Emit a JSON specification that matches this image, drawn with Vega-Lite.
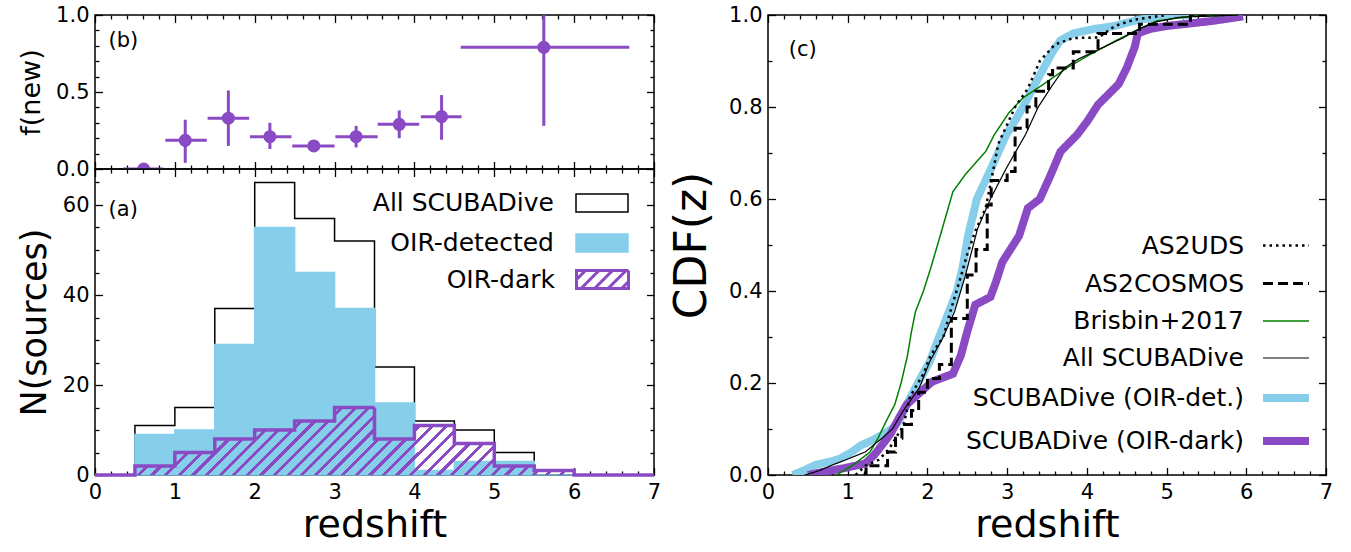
{
  "$schema": "https://vega.github.io/schema/vega-lite/v6.json",
  "background": "white",
  "padding": {"left": 16, "top": 3, "right": 20, "bottom": 2},
  "config": {
    "font": "DejaVu Sans",
    "view": {"stroke": "black", "strokeWidth": 1.5},
    "axis": {"domain": false, "grid": false, "ticks": true, "tickColor": "black", "tickWidth": 1.3, "zindex": 1,
      "labelFont": "DejaVu Sans", "labelFontSize": 21, "labelColor": "black", "labelPadding": 6, "labelFlush": false,
      "titleFont": "DejaVu Sans", "titleFontWeight": "normal", "titleColor": "black"},
    "legend": {"labelFont": "DejaVu Sans", "labelColor": "black", "padding": 0}
  },
  "datasets": {
    "hist": [
      {"sample": "All SCUBADive", "z": 0, "n": 0}, {"sample": "All SCUBADive", "z": 0.5, "n": 11}, {"sample": "All SCUBADive", "z": 1, "n": 15},
      {"sample": "All SCUBADive", "z": 1.5, "n": 37}, {"sample": "All SCUBADive", "z": 2, "n": 65}, {"sample": "All SCUBADive", "z": 2.5, "n": 57},
      {"sample": "All SCUBADive", "z": 3, "n": 52}, {"sample": "All SCUBADive", "z": 3.5, "n": 24}, {"sample": "All SCUBADive", "z": 4, "n": 12},
      {"sample": "All SCUBADive", "z": 4.5, "n": 10}, {"sample": "All SCUBADive", "z": 5, "n": 5}, {"sample": "All SCUBADive", "z": 5.5, "n": 1},
      {"sample": "All SCUBADive", "z": 6, "n": 0}, {"sample": "All SCUBADive", "z": 6.5, "n": 0}, {"sample": "All SCUBADive", "z": 7, "n": 0},
      {"sample": "OIR-detected", "z": 0, "n": 0}, {"sample": "OIR-detected", "z": 0.5, "n": 9}, {"sample": "OIR-detected", "z": 1, "n": 10},
      {"sample": "OIR-detected", "z": 1.5, "n": 29}, {"sample": "OIR-detected", "z": 2, "n": 55}, {"sample": "OIR-detected", "z": 2.5, "n": 45},
      {"sample": "OIR-detected", "z": 3, "n": 37}, {"sample": "OIR-detected", "z": 3.5, "n": 16}, {"sample": "OIR-detected", "z": 4, "n": 1},
      {"sample": "OIR-detected", "z": 4.5, "n": 3}, {"sample": "OIR-detected", "z": 5, "n": 3}, {"sample": "OIR-detected", "z": 5.5, "n": 0},
      {"sample": "OIR-detected", "z": 6, "n": 0}, {"sample": "OIR-detected", "z": 6.5, "n": 0}, {"sample": "OIR-detected", "z": 7, "n": 0},
      {"sample": "OIR-dark", "z": 0, "n": 0}, {"sample": "OIR-dark", "z": 0.5, "n": 2}, {"sample": "OIR-dark", "z": 1, "n": 5},
      {"sample": "OIR-dark", "z": 1.5, "n": 8}, {"sample": "OIR-dark", "z": 2, "n": 10}, {"sample": "OIR-dark", "z": 2.5, "n": 12},
      {"sample": "OIR-dark", "z": 3, "n": 15}, {"sample": "OIR-dark", "z": 3.5, "n": 8}, {"sample": "OIR-dark", "z": 4, "n": 11},
      {"sample": "OIR-dark", "z": 4.5, "n": 7}, {"sample": "OIR-dark", "z": 5, "n": 2}, {"sample": "OIR-dark", "z": 5.5, "n": 1},
      {"sample": "OIR-dark", "z": 6, "n": 0}, {"sample": "OIR-dark", "z": 6.5, "n": 0}, {"sample": "OIR-dark", "z": 7, "n": 0}
    ],
    "fnew": [
      {"z": 0.61, "zlo": 0.35, "zhi": 0.86, "f": 0.0, "flo": 0.0, "fhi": 0.0},
      {"z": 1.13, "zlo": 0.88, "zhi": 1.4, "f": 0.186, "flo": 0.04, "fhi": 0.32},
      {"z": 1.67, "zlo": 1.41, "zhi": 1.93, "f": 0.33, "flo": 0.15, "fhi": 0.51},
      {"z": 2.19, "zlo": 1.94, "zhi": 2.46, "f": 0.21, "flo": 0.13, "fhi": 0.3},
      {"z": 2.74, "zlo": 2.47, "zhi": 3.0, "f": 0.15, "flo": 0.13, "fhi": 0.17},
      {"z": 3.27, "zlo": 3.01, "zhi": 3.54, "f": 0.21, "flo": 0.14, "fhi": 0.28},
      {"z": 3.81, "zlo": 3.54, "zhi": 4.06, "f": 0.29, "flo": 0.2, "fhi": 0.38},
      {"z": 4.34, "zlo": 4.08, "zhi": 4.59, "f": 0.34, "flo": 0.19, "fhi": 0.48},
      {"z": 5.62, "zlo": 4.58, "zhi": 6.69, "f": 0.79, "flo": 0.28, "fhi": 1.0}
    ],
    "cdf": [
      {"sample": "SCUBADive (OIR-det.)", "z": 0.31, "c": 0}, {"sample": "SCUBADive (OIR-det.)", "z": 0.45, "c": 0.01}, {"sample": "SCUBADive (OIR-det.)", "z": 0.6, "c": 0.022},
      {"sample": "SCUBADive (OIR-det.)", "z": 0.8, "c": 0.03}, {"sample": "SCUBADive (OIR-det.)", "z": 0.91, "c": 0.036}, {"sample": "SCUBADive (OIR-det.)", "z": 1.05, "c": 0.05},
      {"sample": "SCUBADive (OIR-det.)", "z": 1.17, "c": 0.065}, {"sample": "SCUBADive (OIR-det.)", "z": 1.3, "c": 0.075}, {"sample": "SCUBADive (OIR-det.)", "z": 1.43, "c": 0.087},
      {"sample": "SCUBADive (OIR-det.)", "z": 1.55, "c": 0.1}, {"sample": "SCUBADive (OIR-det.)", "z": 1.64, "c": 0.116}, {"sample": "SCUBADive (OIR-det.)", "z": 1.74, "c": 0.153},
      {"sample": "SCUBADive (OIR-det.)", "z": 1.88, "c": 0.2}, {"sample": "SCUBADive (OIR-det.)", "z": 2.03, "c": 0.247}, {"sample": "SCUBADive (OIR-det.)", "z": 2.14, "c": 0.297},
      {"sample": "SCUBADive (OIR-det.)", "z": 2.27, "c": 0.355}, {"sample": "SCUBADive (OIR-det.)", "z": 2.37, "c": 0.4}, {"sample": "SCUBADive (OIR-det.)", "z": 2.44, "c": 0.45},
      {"sample": "SCUBADive (OIR-det.)", "z": 2.51, "c": 0.52}, {"sample": "SCUBADive (OIR-det.)", "z": 2.62, "c": 0.6}, {"sample": "SCUBADive (OIR-det.)", "z": 2.8, "c": 0.667},
      {"sample": "SCUBADive (OIR-det.)", "z": 2.99, "c": 0.74}, {"sample": "SCUBADive (OIR-det.)", "z": 3.1, "c": 0.77}, {"sample": "SCUBADive (OIR-det.)", "z": 3.23, "c": 0.81},
      {"sample": "SCUBADive (OIR-det.)", "z": 3.35, "c": 0.85}, {"sample": "SCUBADive (OIR-det.)", "z": 3.46, "c": 0.885}, {"sample": "SCUBADive (OIR-det.)", "z": 3.57, "c": 0.92},
      {"sample": "SCUBADive (OIR-det.)", "z": 3.67, "c": 0.945}, {"sample": "SCUBADive (OIR-det.)", "z": 3.83, "c": 0.96}, {"sample": "SCUBADive (OIR-det.)", "z": 4.1, "c": 0.97},
      {"sample": "SCUBADive (OIR-det.)", "z": 4.35, "c": 0.976}, {"sample": "SCUBADive (OIR-det.)", "z": 4.5, "c": 0.983}, {"sample": "SCUBADive (OIR-det.)", "z": 4.66, "c": 0.99},
      {"sample": "SCUBADive (OIR-det.)", "z": 5.08, "c": 1.0}, {"sample": "SCUBADive (OIR-det.)", "z": 5.3, "c": 1.0},

      {"sample": "SCUBADive (OIR-dark)", "z": 0.5, "c": 0}, {"sample": "SCUBADive (OIR-dark)", "z": 0.7, "c": 0.007}, {"sample": "SCUBADive (OIR-dark)", "z": 0.96, "c": 0.015},
      {"sample": "SCUBADive (OIR-dark)", "z": 1.22, "c": 0.025}, {"sample": "SCUBADive (OIR-dark)", "z": 1.33, "c": 0.043}, {"sample": "SCUBADive (OIR-dark)", "z": 1.43, "c": 0.065},
      {"sample": "SCUBADive (OIR-dark)", "z": 1.54, "c": 0.09}, {"sample": "SCUBADive (OIR-dark)", "z": 1.64, "c": 0.123}, {"sample": "SCUBADive (OIR-dark)", "z": 1.74, "c": 0.153},
      {"sample": "SCUBADive (OIR-dark)", "z": 1.9, "c": 0.178}, {"sample": "SCUBADive (OIR-dark)", "z": 2.06, "c": 0.203}, {"sample": "SCUBADive (OIR-dark)", "z": 2.32, "c": 0.22},
      {"sample": "SCUBADive (OIR-dark)", "z": 2.42, "c": 0.26}, {"sample": "SCUBADive (OIR-dark)", "z": 2.5, "c": 0.312}, {"sample": "SCUBADive (OIR-dark)", "z": 2.6, "c": 0.37},
      {"sample": "SCUBADive (OIR-dark)", "z": 2.79, "c": 0.387}, {"sample": "SCUBADive (OIR-dark)", "z": 2.86, "c": 0.42}, {"sample": "SCUBADive (OIR-dark)", "z": 2.94, "c": 0.463},
      {"sample": "SCUBADive (OIR-dark)", "z": 3.15, "c": 0.52}, {"sample": "SCUBADive (OIR-dark)", "z": 3.26, "c": 0.58}, {"sample": "SCUBADive (OIR-dark)", "z": 3.41, "c": 0.6},
      {"sample": "SCUBADive (OIR-dark)", "z": 3.54, "c": 0.65}, {"sample": "SCUBADive (OIR-dark)", "z": 3.67, "c": 0.703}, {"sample": "SCUBADive (OIR-dark)", "z": 3.88, "c": 0.74},
      {"sample": "SCUBADive (OIR-dark)", "z": 4.01, "c": 0.77}, {"sample": "SCUBADive (OIR-dark)", "z": 4.14, "c": 0.805}, {"sample": "SCUBADive (OIR-dark)", "z": 4.4, "c": 0.85},
      {"sample": "SCUBADive (OIR-dark)", "z": 4.5, "c": 0.885}, {"sample": "SCUBADive (OIR-dark)", "z": 4.6, "c": 0.93}, {"sample": "SCUBADive (OIR-dark)", "z": 4.64, "c": 0.96},
      {"sample": "SCUBADive (OIR-dark)", "z": 4.8, "c": 0.97}, {"sample": "SCUBADive (OIR-dark)", "z": 5.0, "c": 0.976}, {"sample": "SCUBADive (OIR-dark)", "z": 5.57, "c": 0.987},
      {"sample": "SCUBADive (OIR-dark)", "z": 5.96, "c": 0.997},

      {"sample": "Brisbin+2017", "z": 0.86, "c": 0}, {"sample": "Brisbin+2017", "z": 1.07, "c": 0.022}, {"sample": "Brisbin+2017", "z": 1.28, "c": 0.05},
      {"sample": "Brisbin+2017", "z": 1.38, "c": 0.08}, {"sample": "Brisbin+2017", "z": 1.48, "c": 0.116}, {"sample": "Brisbin+2017", "z": 1.59, "c": 0.153},
      {"sample": "Brisbin+2017", "z": 1.67, "c": 0.2}, {"sample": "Brisbin+2017", "z": 1.75, "c": 0.26}, {"sample": "Brisbin+2017", "z": 1.8, "c": 0.312},
      {"sample": "Brisbin+2017", "z": 1.85, "c": 0.355}, {"sample": "Brisbin+2017", "z": 1.95, "c": 0.4}, {"sample": "Brisbin+2017", "z": 2.04, "c": 0.449},
      {"sample": "Brisbin+2017", "z": 2.16, "c": 0.52}, {"sample": "Brisbin+2017", "z": 2.32, "c": 0.616}, {"sample": "Brisbin+2017", "z": 2.47, "c": 0.652},
      {"sample": "Brisbin+2017", "z": 2.73, "c": 0.703}, {"sample": "Brisbin+2017", "z": 2.84, "c": 0.74}, {"sample": "Brisbin+2017", "z": 3.02, "c": 0.787},
      {"sample": "Brisbin+2017", "z": 3.2, "c": 0.82}, {"sample": "Brisbin+2017", "z": 3.46, "c": 0.85}, {"sample": "Brisbin+2017", "z": 3.75, "c": 0.885},
      {"sample": "Brisbin+2017", "z": 4.04, "c": 0.914}, {"sample": "Brisbin+2017", "z": 4.35, "c": 0.943}, {"sample": "Brisbin+2017", "z": 4.6, "c": 0.965},
      {"sample": "Brisbin+2017", "z": 4.87, "c": 0.987}, {"sample": "Brisbin+2017", "z": 5.3, "c": 0.997}, {"sample": "Brisbin+2017", "z": 5.9, "c": 1.0},

      {"sample": "All SCUBADive", "z": 0.47, "c": 0}, {"sample": "All SCUBADive", "z": 0.65, "c": 0.01}, {"sample": "All SCUBADive", "z": 0.81, "c": 0.022},
      {"sample": "All SCUBADive", "z": 1.02, "c": 0.036}, {"sample": "All SCUBADive", "z": 1.22, "c": 0.05}, {"sample": "All SCUBADive", "z": 1.43, "c": 0.08},
      {"sample": "All SCUBADive", "z": 1.56, "c": 0.1}, {"sample": "All SCUBADive", "z": 1.69, "c": 0.138}, {"sample": "All SCUBADive", "z": 1.9, "c": 0.19},
      {"sample": "All SCUBADive", "z": 2.03, "c": 0.247}, {"sample": "All SCUBADive", "z": 2.19, "c": 0.297}, {"sample": "All SCUBADive", "z": 2.34, "c": 0.355},
      {"sample": "All SCUBADive", "z": 2.47, "c": 0.43}, {"sample": "All SCUBADive", "z": 2.63, "c": 0.536}, {"sample": "All SCUBADive", "z": 2.79, "c": 0.6},
      {"sample": "All SCUBADive", "z": 2.99, "c": 0.667}, {"sample": "All SCUBADive", "z": 3.23, "c": 0.74}, {"sample": "All SCUBADive", "z": 3.39, "c": 0.8},
      {"sample": "All SCUBADive", "z": 3.57, "c": 0.848}, {"sample": "All SCUBADive", "z": 3.72, "c": 0.885}, {"sample": "All SCUBADive", "z": 3.9, "c": 0.905},
      {"sample": "All SCUBADive", "z": 4.09, "c": 0.92}, {"sample": "All SCUBADive", "z": 4.45, "c": 0.95}, {"sample": "All SCUBADive", "z": 4.66, "c": 0.97},
      {"sample": "All SCUBADive", "z": 4.87, "c": 0.985}, {"sample": "All SCUBADive", "z": 5.15, "c": 0.995}, {"sample": "All SCUBADive", "z": 5.9, "c": 1.0},

      {"sample": "AS2COSMOS", "z": 1.2, "c": 0}, {"sample": "AS2COSMOS", "z": 1.23, "c": 0.02}, {"sample": "AS2COSMOS", "z": 1.5, "c": 0.05},
      {"sample": "AS2COSMOS", "z": 1.6, "c": 0.08}, {"sample": "AS2COSMOS", "z": 1.68, "c": 0.11}, {"sample": "AS2COSMOS", "z": 1.8, "c": 0.14},
      {"sample": "AS2COSMOS", "z": 1.89, "c": 0.18}, {"sample": "AS2COSMOS", "z": 2.0, "c": 0.21}, {"sample": "AS2COSMOS", "z": 2.15, "c": 0.24},
      {"sample": "AS2COSMOS", "z": 2.3, "c": 0.34}, {"sample": "AS2COSMOS", "z": 2.5, "c": 0.435}, {"sample": "AS2COSMOS", "z": 2.61, "c": 0.49},
      {"sample": "AS2COSMOS", "z": 2.75, "c": 0.587}, {"sample": "AS2COSMOS", "z": 2.8, "c": 0.64}, {"sample": "AS2COSMOS", "z": 3.0, "c": 0.66},
      {"sample": "AS2COSMOS", "z": 3.1, "c": 0.754}, {"sample": "AS2COSMOS", "z": 3.25, "c": 0.8}, {"sample": "AS2COSMOS", "z": 3.36, "c": 0.834},
      {"sample": "AS2COSMOS", "z": 3.52, "c": 0.87}, {"sample": "AS2COSMOS", "z": 3.57, "c": 0.885}, {"sample": "AS2COSMOS", "z": 3.83, "c": 0.92},
      {"sample": "AS2COSMOS", "z": 4.14, "c": 0.96}, {"sample": "AS2COSMOS", "z": 4.66, "c": 0.98}, {"sample": "AS2COSMOS", "z": 5.3, "c": 1.0},
      {"sample": "AS2COSMOS", "z": 5.5, "c": 1.0},

      {"sample": "AS2UDS", "z": 1.1, "c": 0}, {"sample": "AS2UDS", "z": 1.22, "c": 0.02}, {"sample": "AS2UDS", "z": 1.39, "c": 0.033},
      {"sample": "AS2UDS", "z": 1.52, "c": 0.057}, {"sample": "AS2UDS", "z": 1.7, "c": 0.108}, {"sample": "AS2UDS", "z": 1.78, "c": 0.17},
      {"sample": "AS2UDS", "z": 1.95, "c": 0.22}, {"sample": "AS2UDS", "z": 2.04, "c": 0.26}, {"sample": "AS2UDS", "z": 2.2, "c": 0.3},
      {"sample": "AS2UDS", "z": 2.27, "c": 0.345}, {"sample": "AS2UDS", "z": 2.4, "c": 0.42}, {"sample": "AS2UDS", "z": 2.5, "c": 0.48},
      {"sample": "AS2UDS", "z": 2.6, "c": 0.53}, {"sample": "AS2UDS", "z": 2.73, "c": 0.58}, {"sample": "AS2UDS", "z": 2.8, "c": 0.64},
      {"sample": "AS2UDS", "z": 2.89, "c": 0.72}, {"sample": "AS2UDS", "z": 3.1, "c": 0.8}, {"sample": "AS2UDS", "z": 3.26, "c": 0.84},
      {"sample": "AS2UDS", "z": 3.41, "c": 0.9}, {"sample": "AS2UDS", "z": 3.6, "c": 0.936}, {"sample": "AS2UDS", "z": 3.83, "c": 0.95},
      {"sample": "AS2UDS", "z": 4.15, "c": 0.951}, {"sample": "AS2UDS", "z": 4.35, "c": 0.976}, {"sample": "AS2UDS", "z": 4.6, "c": 0.99},
      {"sample": "AS2UDS", "z": 5.0, "c": 1.0}
    ]
  },
  "hconcat": [
    {
      "vconcat": [
        {
          "width": 559, "height": 154,
          "data": {"name": "fnew"},
          "layer": [
            {
              "mark": {"type": "rule", "color": "#8a4ac4", "strokeWidth": 3, "clip": true},
              "encoding": {
                "x": {"field": "zlo", "type": "quantitative", "scale": {"domain": [0, 7], "nice": false, "zero": false},
                  "axis": {"orient": "bottom", "offset": -7.5, "tickSize": 7.5, "labels": false, "title": null, "minExtent": 0, "maxExtent": 0, "values": [0,1,2,3,4,5,6,7]}},
                "x2": {"field": "zhi"},
                "y": {"field": "f", "type": "quantitative", "scale": {"domain": [0, 1], "nice": false},
                  "axis": {"orient": "left", "offset": -7.5, "tickSize": 7.5, "title": "f(new)", "titleFontSize": 27, "titlePadding": 10, "values": [0, 0.5, 1], "format": ".1f"}}
              }
            },
            {
              "mark": {"type": "rule", "color": "#8a4ac4", "strokeWidth": 3, "clip": true},
              "encoding": {
                "x": {"field": "z", "type": "quantitative",
                  "axis": {"orient": "top", "offset": -7.5, "tickSize": 7.5, "labels": false, "title": null, "minExtent": 0, "maxExtent": 0, "values": [0,1,2,3,4,5,6,7]}},
                "y": {"field": "flo", "type": "quantitative",
                  "axis": {"orient": "right", "offset": -7.5, "tickSize": 7.5, "labels": false, "title": null, "minExtent": 0, "maxExtent": 0, "values": [0, 0.5, 1]}},
                "y2": {"field": "fhi"}
              }
            },
            {
              "mark": {"type": "point", "filled": true, "color": "#8a4ac4", "opacity": 1, "size": 170, "clip": true},
              "encoding": {
                "x": {"field": "z", "type": "quantitative",
                  "axis": {"orient": "bottom", "offset": -4, "tickSize": 4, "labels": false, "title": null, "minExtent": 0, "maxExtent": 0,
                    "values": [0.2,0.4,0.6,0.8,1.2,1.4,1.6,1.8,2.2,2.4,2.6,2.8,3.2,3.4,3.6,3.8,4.2,4.4,4.6,4.8,5.2,5.4,5.6,5.8,6.2,6.4,6.6,6.8]}},
                "y": {"field": "f", "type": "quantitative",
                  "axis": {"orient": "left", "offset": -4, "tickSize": 4, "labels": false, "title": null, "minExtent": 0, "maxExtent": 0,
                    "values": [0.1,0.2,0.3,0.4,0.6,0.7,0.8,0.9]}}
              }
            },
            {
              "data": {"values": [{"label": "(b)"}]},
              "mark": {"type": "text", "align": "left", "baseline": "middle", "fontSize": 21, "color": "black"},
              "encoding": {
                "x": {"datum": 0.17, "type": "quantitative",
                  "axis": {"orient": "top", "offset": -4, "tickSize": 4, "labels": false, "title": null, "minExtent": 0, "maxExtent": 0,
                    "values": [0.2,0.4,0.6,0.8,1.2,1.4,1.6,1.8,2.2,2.4,2.6,2.8,3.2,3.4,3.6,3.8,4.2,4.4,4.6,4.8,5.2,5.4,5.6,5.8,6.2,6.4,6.6,6.8]}},
                "y": {"datum": 0.83, "type": "quantitative",
                  "axis": {"orient": "right", "offset": -4, "tickSize": 4, "labels": false, "title": null, "minExtent": 0, "maxExtent": 0,
                    "values": [0.1,0.2,0.3,0.4,0.6,0.7,0.8,0.9]}},
                "text": {"field": "label"}
              }
            }
          ],
          "resolve": {"axis": {"x": "independent", "y": "independent"}}
        },
        {
          "width": 559, "height": 306,
          "data": {"name": "hist"},
          "layer": [
            {
              "transform": [{"filter": "datum.sample === 'All SCUBADive'"}],
              "mark": {"type": "area", "interpolate": "step-after", "fill": "#ffffff", "stroke": "black", "strokeWidth": 1.5, "opacity": 1, "fillOpacity": 1},
              "encoding": {
                "x": {"field": "z", "type": "quantitative", "scale": {"domain": [0, 7], "nice": false, "zero": false},
                  "axis": {"orient": "bottom", "offset": -7.5, "tickSize": 7.5, "values": [0,1,2,3,4,5,6,7], "format": "d",
                    "title": "redshift", "titleFontSize": 38, "titlePadding": 4}},
                "y": {"field": "n", "type": "quantitative", "stack": null, "scale": {"domain": [0, 68], "nice": false},
                  "axis": {"orient": "left", "offset": -7.5, "tickSize": 7.5, "values": [0, 20, 40, 60], "format": "d",
                    "title": "N(sources)", "titleFontSize": 35, "titlePadding": 10}}
              }
            },
            {
              "transform": [{"filter": "datum.sample === 'OIR-detected'"}],
              "mark": {"type": "area", "interpolate": "step-after", "opacity": 1, "fillOpacity": 1, "strokeWidth": 1.5},
              "encoding": {
                "x": {"field": "z", "type": "quantitative",
                  "axis": {"orient": "top", "offset": -7.5, "tickSize": 7.5, "labels": false, "title": null, "minExtent": 0, "maxExtent": 0, "values": [0,1,2,3,4,5,6,7]}},
                "y": {"field": "n", "type": "quantitative", "stack": null,
                  "axis": {"orient": "right", "offset": -7.5, "tickSize": 7.5, "labels": false, "title": null, "minExtent": 0, "maxExtent": 0, "values": [0, 20, 40, 60]}},
                "fill": {"field": "sample", "type": "nominal",
                  "scale": {"domain": ["All SCUBADive", "OIR-detected"], "range": ["#ffffff", "#87ceeb"]},
                  "legend": {"title": null, "orient": "none", "legendX": 265, "legendY": 7, "symbolType": "M-1,-0.35H1V0.35H-1Z", "symbolSize": 2704,
                    "labelFontSize": 25, "labelLimit": 400, "labelAlign": "right", "labelOffset": -75, "symbolOffset": 215, "rowPadding": 0, "symbolStrokeWidth": 1.5}},
                "stroke": {"field": "sample", "type": "nominal",
                  "scale": {"domain": ["All SCUBADive", "OIR-detected"], "range": ["#000000", "#87ceeb"]},
                  "legend": {"title": null, "orient": "none", "legendX": 265, "legendY": 7, "symbolType": "M-1,-0.35H1V0.35H-1Z", "symbolSize": 2704,
                    "labelFontSize": 25, "labelLimit": 400, "labelAlign": "right", "labelOffset": -75, "symbolOffset": 215, "rowPadding": 0, "symbolStrokeWidth": 1.5}}
              }
            },
            {
              "transform": [{"filter": "datum.sample === 'OIR-dark'"}],
              "mark": {"type": "area", "interpolate": "step-after", "opacity": 1, "strokeWidth": 0,
                "fill": {"gradient": "linear", "x1": 0, "y1": 0, "x2": 1, "y2": 0.1208, "stops": [
                  {"offset": 0, "color": "rgba(255,255,255,0)"}, {"offset": 0, "color": "#8a4ac4"}, {"offset": 0.0075, "color": "#8a4ac4"}, {"offset": 0.0075, "color": "rgba(255,255,255,0)"},
                  {"offset": 0.024, "color": "rgba(255,255,255,0)"}, {"offset": 0.024, "color": "#8a4ac4"}, {"offset": 0.0315, "color": "#8a4ac4"}, {"offset": 0.0315, "color": "rgba(255,255,255,0)"},
                  {"offset": 0.048, "color": "rgba(255,255,255,0)"}, {"offset": 0.048, "color": "#8a4ac4"}, {"offset": 0.0555, "color": "#8a4ac4"}, {"offset": 0.0555, "color": "rgba(255,255,255,0)"},
                  {"offset": 0.072, "color": "rgba(255,255,255,0)"}, {"offset": 0.072, "color": "#8a4ac4"}, {"offset": 0.0795, "color": "#8a4ac4"}, {"offset": 0.0795, "color": "rgba(255,255,255,0)"},
                  {"offset": 0.096, "color": "rgba(255,255,255,0)"}, {"offset": 0.096, "color": "#8a4ac4"}, {"offset": 0.1035, "color": "#8a4ac4"}, {"offset": 0.1035, "color": "rgba(255,255,255,0)"},
                  {"offset": 0.12, "color": "rgba(255,255,255,0)"}, {"offset": 0.12, "color": "#8a4ac4"}, {"offset": 0.1275, "color": "#8a4ac4"}, {"offset": 0.1275, "color": "rgba(255,255,255,0)"},
                  {"offset": 0.144, "color": "rgba(255,255,255,0)"}, {"offset": 0.144, "color": "#8a4ac4"}, {"offset": 0.1515, "color": "#8a4ac4"}, {"offset": 0.1515, "color": "rgba(255,255,255,0)"},
                  {"offset": 0.168, "color": "rgba(255,255,255,0)"}, {"offset": 0.168, "color": "#8a4ac4"}, {"offset": 0.1755, "color": "#8a4ac4"}, {"offset": 0.1755, "color": "rgba(255,255,255,0)"},
                  {"offset": 0.192, "color": "rgba(255,255,255,0)"}, {"offset": 0.192, "color": "#8a4ac4"}, {"offset": 0.1995, "color": "#8a4ac4"}, {"offset": 0.1995, "color": "rgba(255,255,255,0)"},
                  {"offset": 0.216, "color": "rgba(255,255,255,0)"}, {"offset": 0.216, "color": "#8a4ac4"}, {"offset": 0.2235, "color": "#8a4ac4"}, {"offset": 0.2235, "color": "rgba(255,255,255,0)"},
                  {"offset": 0.24, "color": "rgba(255,255,255,0)"}, {"offset": 0.24, "color": "#8a4ac4"}, {"offset": 0.2475, "color": "#8a4ac4"}, {"offset": 0.2475, "color": "rgba(255,255,255,0)"},
                  {"offset": 0.264, "color": "rgba(255,255,255,0)"}, {"offset": 0.264, "color": "#8a4ac4"}, {"offset": 0.2715, "color": "#8a4ac4"}, {"offset": 0.2715, "color": "rgba(255,255,255,0)"},
                  {"offset": 0.288, "color": "rgba(255,255,255,0)"}, {"offset": 0.288, "color": "#8a4ac4"}, {"offset": 0.2955, "color": "#8a4ac4"}, {"offset": 0.2955, "color": "rgba(255,255,255,0)"},
                  {"offset": 0.312, "color": "rgba(255,255,255,0)"}, {"offset": 0.312, "color": "#8a4ac4"}, {"offset": 0.3195, "color": "#8a4ac4"}, {"offset": 0.3195, "color": "rgba(255,255,255,0)"},
                  {"offset": 0.336, "color": "rgba(255,255,255,0)"}, {"offset": 0.336, "color": "#8a4ac4"}, {"offset": 0.3435, "color": "#8a4ac4"}, {"offset": 0.3435, "color": "rgba(255,255,255,0)"},
                  {"offset": 0.36, "color": "rgba(255,255,255,0)"}, {"offset": 0.36, "color": "#8a4ac4"}, {"offset": 0.3675, "color": "#8a4ac4"}, {"offset": 0.3675, "color": "rgba(255,255,255,0)"},
                  {"offset": 0.384, "color": "rgba(255,255,255,0)"}, {"offset": 0.384, "color": "#8a4ac4"}, {"offset": 0.3915, "color": "#8a4ac4"}, {"offset": 0.3915, "color": "rgba(255,255,255,0)"},
                  {"offset": 0.408, "color": "rgba(255,255,255,0)"}, {"offset": 0.408, "color": "#8a4ac4"}, {"offset": 0.4155, "color": "#8a4ac4"}, {"offset": 0.4155, "color": "rgba(255,255,255,0)"},
                  {"offset": 0.432, "color": "rgba(255,255,255,0)"}, {"offset": 0.432, "color": "#8a4ac4"}, {"offset": 0.4395, "color": "#8a4ac4"}, {"offset": 0.4395, "color": "rgba(255,255,255,0)"},
                  {"offset": 0.456, "color": "rgba(255,255,255,0)"}, {"offset": 0.456, "color": "#8a4ac4"}, {"offset": 0.4635, "color": "#8a4ac4"}, {"offset": 0.4635, "color": "rgba(255,255,255,0)"},
                  {"offset": 0.48, "color": "rgba(255,255,255,0)"}, {"offset": 0.48, "color": "#8a4ac4"}, {"offset": 0.4875, "color": "#8a4ac4"}, {"offset": 0.4875, "color": "rgba(255,255,255,0)"},
                  {"offset": 0.504, "color": "rgba(255,255,255,0)"}, {"offset": 0.504, "color": "#8a4ac4"}, {"offset": 0.5115, "color": "#8a4ac4"}, {"offset": 0.5115, "color": "rgba(255,255,255,0)"},
                  {"offset": 0.528, "color": "rgba(255,255,255,0)"}, {"offset": 0.528, "color": "#8a4ac4"}, {"offset": 0.5355, "color": "#8a4ac4"}, {"offset": 0.5355, "color": "rgba(255,255,255,0)"},
                  {"offset": 0.552, "color": "rgba(255,255,255,0)"}, {"offset": 0.552, "color": "#8a4ac4"}, {"offset": 0.5595, "color": "#8a4ac4"}, {"offset": 0.5595, "color": "rgba(255,255,255,0)"},
                  {"offset": 0.576, "color": "rgba(255,255,255,0)"}, {"offset": 0.576, "color": "#8a4ac4"}, {"offset": 0.5835, "color": "#8a4ac4"}, {"offset": 0.5835, "color": "rgba(255,255,255,0)"},
                  {"offset": 0.6, "color": "rgba(255,255,255,0)"}, {"offset": 0.6, "color": "#8a4ac4"}, {"offset": 0.6075, "color": "#8a4ac4"}, {"offset": 0.6075, "color": "rgba(255,255,255,0)"},
                  {"offset": 0.624, "color": "rgba(255,255,255,0)"}, {"offset": 0.624, "color": "#8a4ac4"}, {"offset": 0.6315, "color": "#8a4ac4"}, {"offset": 0.6315, "color": "rgba(255,255,255,0)"},
                  {"offset": 0.648, "color": "rgba(255,255,255,0)"}, {"offset": 0.648, "color": "#8a4ac4"}, {"offset": 0.6555, "color": "#8a4ac4"}, {"offset": 0.6555, "color": "rgba(255,255,255,0)"},
                  {"offset": 0.672, "color": "rgba(255,255,255,0)"}, {"offset": 0.672, "color": "#8a4ac4"}, {"offset": 0.6795, "color": "#8a4ac4"}, {"offset": 0.6795, "color": "rgba(255,255,255,0)"},
                  {"offset": 0.696, "color": "rgba(255,255,255,0)"}, {"offset": 0.696, "color": "#8a4ac4"}, {"offset": 0.7035, "color": "#8a4ac4"}, {"offset": 0.7035, "color": "rgba(255,255,255,0)"},
                  {"offset": 0.72, "color": "rgba(255,255,255,0)"}, {"offset": 0.72, "color": "#8a4ac4"}, {"offset": 0.7275, "color": "#8a4ac4"}, {"offset": 0.7275, "color": "rgba(255,255,255,0)"},
                  {"offset": 0.744, "color": "rgba(255,255,255,0)"}, {"offset": 0.744, "color": "#8a4ac4"}, {"offset": 0.7515, "color": "#8a4ac4"}, {"offset": 0.7515, "color": "rgba(255,255,255,0)"},
                  {"offset": 0.768, "color": "rgba(255,255,255,0)"}, {"offset": 0.768, "color": "#8a4ac4"}, {"offset": 0.7755, "color": "#8a4ac4"}, {"offset": 0.7755, "color": "rgba(255,255,255,0)"},
                  {"offset": 0.792, "color": "rgba(255,255,255,0)"}, {"offset": 0.792, "color": "#8a4ac4"}, {"offset": 0.7995, "color": "#8a4ac4"}, {"offset": 0.7995, "color": "rgba(255,255,255,0)"},
                  {"offset": 0.816, "color": "rgba(255,255,255,0)"}, {"offset": 0.816, "color": "#8a4ac4"}, {"offset": 0.8235, "color": "#8a4ac4"}, {"offset": 0.8235, "color": "rgba(255,255,255,0)"},
                  {"offset": 0.84, "color": "rgba(255,255,255,0)"}, {"offset": 0.84, "color": "#8a4ac4"}, {"offset": 0.8475, "color": "#8a4ac4"}, {"offset": 0.8475, "color": "rgba(255,255,255,0)"},
                  {"offset": 0.864, "color": "rgba(255,255,255,0)"}, {"offset": 0.864, "color": "#8a4ac4"}, {"offset": 0.8715, "color": "#8a4ac4"}, {"offset": 0.8715, "color": "rgba(255,255,255,0)"},
                  {"offset": 0.888, "color": "rgba(255,255,255,0)"}, {"offset": 0.888, "color": "#8a4ac4"}, {"offset": 0.8955, "color": "#8a4ac4"}, {"offset": 0.8955, "color": "rgba(255,255,255,0)"},
                  {"offset": 0.912, "color": "rgba(255,255,255,0)"}, {"offset": 0.912, "color": "#8a4ac4"}, {"offset": 0.9195, "color": "#8a4ac4"}, {"offset": 0.9195, "color": "rgba(255,255,255,0)"},
                  {"offset": 0.936, "color": "rgba(255,255,255,0)"}, {"offset": 0.936, "color": "#8a4ac4"}, {"offset": 0.9435, "color": "#8a4ac4"}, {"offset": 0.9435, "color": "rgba(255,255,255,0)"},
                  {"offset": 0.96, "color": "rgba(255,255,255,0)"}, {"offset": 0.96, "color": "#8a4ac4"}, {"offset": 0.9675, "color": "#8a4ac4"}, {"offset": 0.9675, "color": "rgba(255,255,255,0)"},
                  {"offset": 0.984, "color": "rgba(255,255,255,0)"}, {"offset": 0.984, "color": "#8a4ac4"}, {"offset": 0.9915, "color": "#8a4ac4"}, {"offset": 0.9915, "color": "rgba(255,255,255,0)"},
                  {"offset": 1, "color": "rgba(255,255,255,0)"}
                ]}},
              "encoding": {
                "x": {"field": "z", "type": "quantitative",
                  "axis": {"orient": "bottom", "offset": -4, "tickSize": 4, "labels": false, "title": null, "minExtent": 0, "maxExtent": 0,
                    "values": [0.2,0.4,0.6,0.8,1.2,1.4,1.6,1.8,2.2,2.4,2.6,2.8,3.2,3.4,3.6,3.8,4.2,4.4,4.6,4.8,5.2,5.4,5.6,5.8,6.2,6.4,6.6,6.8]}},
                "y": {"field": "n", "type": "quantitative", "stack": null,
                  "axis": {"orient": "left", "offset": -4, "tickSize": 4, "labels": false, "title": null, "minExtent": 0, "maxExtent": 0,
                    "values": [5,10,15,25,30,35,45,50,55,65]}}
              }
            },
            {
              "transform": [{"filter": "datum.sample === 'OIR-dark'"}],
              "mark": {"type": "line", "interpolate": "step-after", "color": "#8a4ac4", "strokeWidth": 3.5, "strokeJoin": "miter", "opacity": 1},
              "encoding": {
                "x": {"field": "z", "type": "quantitative",
                  "axis": {"orient": "top", "offset": -4, "tickSize": 4, "labels": false, "title": null, "minExtent": 0, "maxExtent": 0,
                    "values": [0.2,0.4,0.6,0.8,1.2,1.4,1.6,1.8,2.2,2.4,2.6,2.8,3.2,3.4,3.6,3.8,4.2,4.4,4.6,4.8,5.2,5.4,5.6,5.8,6.2,6.4,6.6,6.8]}},
                "y": {"field": "n", "type": "quantitative", "stack": null,
                  "axis": {"orient": "right", "offset": -4, "tickSize": 4, "labels": false, "title": null, "minExtent": 0, "maxExtent": 0,
                    "values": [5,10,15,25,30,35,45,50,55,65]}},
                "strokeDash": {"field": "sample", "type": "nominal", "scale": {"domain": ["OIR-dark"], "range": [[1, 0]]},
                  "legend": {"title": null, "orient": "none", "legendX": 265, "legendY": 83,
                    "symbolType": "M-1,-0.35H1V0.35H-1Z M-1,0L-0.65,-0.35 M-0.83,0.35L-0.13,-0.35 M-0.31,0.35L0.39,-0.35 M0.21,0.35L0.91,-0.35 M0.73,0.35L1,0.08",
                    "symbolSize": 2704, "symbolStrokeColor": "#8a4ac4", "symbolFillColor": "#ffffff", "symbolStrokeWidth": 3,
                    "labelFontSize": 25, "labelLimit": 400, "labelAlign": "right", "labelOffset": -75, "symbolOffset": 215, "rowPadding": 0}}
              }
            },
            {
              "data": {"values": [{"label": "(a)"}]},
              "mark": {"type": "text", "align": "left", "baseline": "middle", "fontSize": 21, "color": "black"},
              "encoding": {
                "x": {"datum": 0.17, "type": "quantitative", "axis": null},
                "y": {"datum": 59, "type": "quantitative", "axis": null},
                "text": {"field": "label"}
              }
            }
          ],
          "resolve": {"axis": {"x": "independent", "y": "independent"}}
        }
      ],
      "spacing": 0,
      "bounds": "flush",
      "resolve": {"scale": {"fill": "independent", "stroke": "independent", "strokeDash": "independent"}, "legend": {"fill": "independent", "stroke": "independent", "strokeDash": "independent"}}
    },
    {
      "width": 558, "height": 460,
      "layer": [
        {
          "data": {"name": "cdf"},
          "encoding": {
            "color": {"field": "sample", "type": "nominal",
              "scale": {"domain": ["AS2UDS", "AS2COSMOS", "Brisbin+2017", "All SCUBADive", "SCUBADive (OIR-det.)", "SCUBADive (OIR-dark)"],
                "range": ["#000000", "#000000", "#008000", "#000000", "#87ceeb", "#8a4ac4"]},
              "legend": {"title": null, "orient": "none", "legendX": 181, "legendY": 206, "symbolType": "stroke", "symbolSize": 2116,
                "labelFontSize": 25, "labelLimit": 400, "labelAlign": "right", "labelOffset": -69, "symbolOffset": 310, "rowPadding": 0}},
            "strokeDash": {"field": "sample", "type": "nominal",
              "scale": {"domain": ["AS2UDS", "AS2COSMOS", "Brisbin+2017", "All SCUBADive", "SCUBADive (OIR-det.)", "SCUBADive (OIR-dark)"],
                "range": [[2.5, 4], [10, 5], [1, 0], [1, 0], [1, 0], [1, 0]]},
              "legend": {"title": null, "orient": "none", "legendX": 181, "legendY": 206, "symbolType": "stroke", "symbolSize": 2116,
                "labelFontSize": 25, "labelLimit": 400, "labelAlign": "right", "labelOffset": -69, "symbolOffset": 310, "rowPadding": 0}},
            "strokeWidth": {"field": "sample", "type": "nominal",
              "scale": {"type": "ordinal", "domain": ["AS2UDS", "AS2COSMOS", "Brisbin+2017", "All SCUBADive", "SCUBADive (OIR-det.)", "SCUBADive (OIR-dark)"],
                "range": [2.5, 3, 1.5, 1.2, 8, 8]},
              "legend": {"title": null, "orient": "none", "legendX": 181, "legendY": 206, "symbolType": "stroke", "symbolSize": 2116,
                "labelFontSize": 25, "labelLimit": 400, "labelAlign": "right", "labelOffset": -69, "symbolOffset": 310, "rowPadding": 0}}
          },
          "layer": [
            {"transform": [{"filter": "datum.sample === 'SCUBADive (OIR-det.)'"}], "mark": {"type": "line", "clip": true, "opacity": 1},
              "encoding": {
                "x": {"field": "z", "type": "quantitative", "scale": {"domain": [0, 7], "nice": false, "zero": false},
                  "axis": {"orient": "bottom", "offset": -7.5, "tickSize": 7.5, "values": [0,1,2,3,4,5,6,7], "format": "d",
                    "title": "redshift", "titleFontSize": 38, "titlePadding": 4}},
                "y": {"field": "c", "type": "quantitative", "scale": {"domain": [0, 1], "nice": false},
                  "axis": {"orient": "left", "offset": -7.5, "tickSize": 7.5, "values": [0, 0.2, 0.4, 0.6, 0.8, 1], "format": ".1f",
                    "title": "CDF(z)", "titleFontSize": 44, "titlePadding": 14}}
              }},
            {"transform": [{"filter": "datum.sample === 'SCUBADive (OIR-dark)'"}], "mark": {"type": "line", "clip": true, "opacity": 1},
              "encoding": {
                "x": {"field": "z", "type": "quantitative",
                  "axis": {"orient": "top", "offset": -7.5, "tickSize": 7.5, "labels": false, "title": null, "minExtent": 0, "maxExtent": 0, "values": [0,1,2,3,4,5,6,7]}},
                "y": {"field": "c", "type": "quantitative",
                  "axis": {"orient": "right", "offset": -7.5, "tickSize": 7.5, "labels": false, "title": null, "minExtent": 0, "maxExtent": 0, "values": [0, 0.2, 0.4, 0.6, 0.8, 1]}}
              }},
            {"transform": [{"filter": "datum.sample === 'Brisbin+2017'"}], "mark": {"type": "line", "clip": true, "opacity": 1},
              "encoding": {
                "x": {"field": "z", "type": "quantitative",
                  "axis": {"orient": "bottom", "offset": -4, "tickSize": 4, "labels": false, "title": null, "minExtent": 0, "maxExtent": 0,
                    "values": [0.2,0.4,0.6,0.8,1.2,1.4,1.6,1.8,2.2,2.4,2.6,2.8,3.2,3.4,3.6,3.8,4.2,4.4,4.6,4.8,5.2,5.4,5.6,5.8,6.2,6.4,6.6,6.8]}},
                "y": {"field": "c", "type": "quantitative",
                  "axis": {"orient": "left", "offset": -4, "tickSize": 4, "labels": false, "title": null, "minExtent": 0, "maxExtent": 0, "values": [0.1, 0.3, 0.5, 0.7, 0.9]}}
              }},
            {"transform": [{"filter": "datum.sample === 'All SCUBADive'"}], "mark": {"type": "line", "clip": true, "opacity": 1},
              "encoding": {
                "x": {"field": "z", "type": "quantitative",
                  "axis": {"orient": "top", "offset": -4, "tickSize": 4, "labels": false, "title": null, "minExtent": 0, "maxExtent": 0,
                    "values": [0.2,0.4,0.6,0.8,1.2,1.4,1.6,1.8,2.2,2.4,2.6,2.8,3.2,3.4,3.6,3.8,4.2,4.4,4.6,4.8,5.2,5.4,5.6,5.8,6.2,6.4,6.6,6.8]}},
                "y": {"field": "c", "type": "quantitative",
                  "axis": {"orient": "right", "offset": -4, "tickSize": 4, "labels": false, "title": null, "minExtent": 0, "maxExtent": 0, "values": [0.1, 0.3, 0.5, 0.7, 0.9]}}
              }},
            {"transform": [{"filter": "datum.sample === 'AS2COSMOS'"}], "mark": {"type": "line", "clip": true, "opacity": 1, "interpolate": "step-after"},
              "encoding": {
                "x": {"field": "z", "type": "quantitative", "axis": null},
                "y": {"field": "c", "type": "quantitative", "axis": null}
              }},
            {"transform": [{"filter": "datum.sample === 'AS2UDS'"}], "mark": {"type": "line", "clip": true, "opacity": 1},
              "encoding": {
                "x": {"field": "z", "type": "quantitative", "axis": null},
                "y": {"field": "c", "type": "quantitative", "axis": null}
              }}
          ],
          "resolve": {"axis": {"x": "independent", "y": "independent"}}
        },
        {
          "data": {"values": [{"label": "(c)"}]},
          "mark": {"type": "text", "align": "left", "baseline": "middle", "fontSize": 21, "color": "black"},
          "encoding": {
            "x": {"datum": 0.26, "type": "quantitative", "axis": null},
            "y": {"datum": 0.925, "type": "quantitative", "axis": null},
            "text": {"field": "label"}
          }
        }
      ],
      "resolve": {"axis": {"x": "independent", "y": "independent"}}
    }
  ],
  "spacing": 7,
  "resolve": {
    "scale": {"fill": "independent", "stroke": "independent", "color": "independent", "strokeDash": "independent", "strokeWidth": "independent"},
    "legend": {"fill": "independent", "stroke": "independent", "color": "independent", "strokeDash": "independent", "strokeWidth": "independent"}
  }
}
